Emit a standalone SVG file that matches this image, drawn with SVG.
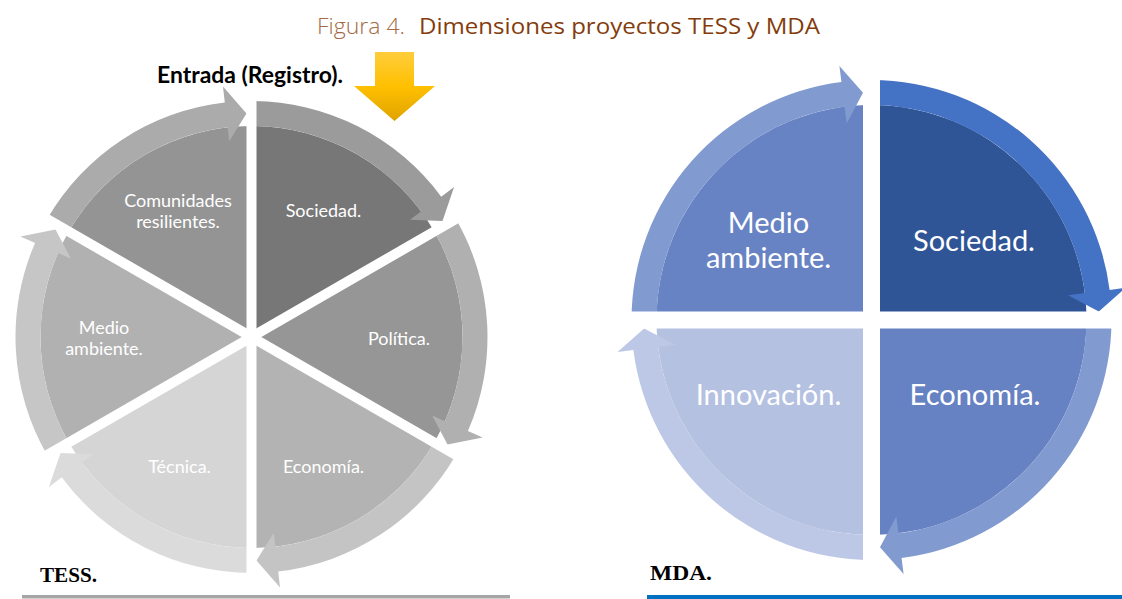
<svg xmlns="http://www.w3.org/2000/svg" xmlns:xlink="http://www.w3.org/1999/xlink" width="1122" height="599" viewBox="0 0 1122 599">
<style>
.lbl{font-family:Lato,"Open Sans","Liberation Sans",sans-serif;fill:#ffffff;text-anchor:middle}
.ts{font-size:18px}
.ms{font-size:29px}
.ser{font-family:"Liberation Serif","Times New Roman",serif;font-weight:bold;fill:#000000;font-size:21px}
.gap{stroke:#ffffff;stroke-width:10;fill:none}
.ttl{font-family:"Open Sans","Noto Sans","Liberation Sans",sans-serif;font-size:22px}
</style>
<defs>
<path id="tp" d="M251.5,337 L251.5,126 A211,211 0 0 1 434.23,231.5 Z"/>
<path id="tr" d="M251.5,101 A236,236 0 0 1 441.22,196.63 L454.08,187.11 L442.5,220.94 L409.87,219.82 L421.12,211.5 A211,211 0 0 0 251.5,126 Z"/>
<path id="mp" d="M871.5,320 L871.5,105 A215,215 0 0 1 1086.5,320 Z"/>
<path id="mr" d="M871.5,80 A240,240 0 0 1 1109.61,289.92 L1125.48,287.92 L1098.84,311.5 L1067.94,295.18 L1084.8,293.05 A215,215 0 0 0 871.5,105 Z"/>
<linearGradient id="gold" x1="0" y1="0" x2="0" y2="1">
<stop offset="0" stop-color="#FFCD3C"/>
<stop offset="0.5" stop-color="#FFC000"/>
<stop offset="1" stop-color="#DFA300"/>
</linearGradient>
</defs>
<rect width="1122" height="599" fill="#ffffff"/>
<g id="title">
<text class="ttl" x="317" y="34" fill="#A36A45" font-weight="300" textLength="88" lengthAdjust="spacingAndGlyphs">Figura 4.</text>
<text class="ttl" x="419" y="34" fill="#843C0C" font-weight="400" textLength="401" lengthAdjust="spacingAndGlyphs">Dimensiones proyectos TESS y MDA</text>
</g>

<!-- TESS -->
<g id="tess-sociedad">
<use xlink:href="#tp" href="#tp" fill="#777777"/>
<use xlink:href="#tr" href="#tr" fill="#9B9B9B"/>
</g>
<g id="tess-politica">
<g transform="rotate(60 251.5 337)"><use xlink:href="#tp" href="#tp" fill="#969696"/><use xlink:href="#tr" href="#tr" fill="#B0B0B0"/></g>
</g>
<g id="tess-economia">
<g transform="rotate(120 251.5 337)"><use xlink:href="#tp" href="#tp" fill="#B3B3B3"/><use xlink:href="#tr" href="#tr" fill="#C4C4C4"/></g>
</g>
<g id="tess-tecnica">
<g transform="rotate(180 251.5 337)"><use xlink:href="#tp" href="#tp" fill="#D5D5D5"/><use xlink:href="#tr" href="#tr" fill="#DBDBDB"/></g>
</g>
<g id="tess-medio">
<g transform="rotate(240 251.5 337)"><use xlink:href="#tp" href="#tp" fill="#B1B1B1"/><use xlink:href="#tr" href="#tr" fill="#C6C6C6"/></g>
</g>
<g id="tess-comunidades">
<g transform="rotate(300 251.5 337)"><use xlink:href="#tp" href="#tp" fill="#949494"/><use xlink:href="#tr" href="#tr" fill="#ABABAB"/></g>
</g>
<g id="tess-gaps">
<line class="gap" x1="251.5" y1="95" x2="251.5" y2="579"/>
<line class="gap" x1="461.08" y1="216" x2="41.92" y2="458"/>
<line class="gap" x1="41.92" y1="216" x2="461.08" y2="458"/>
</g>
<g id="tess-labels">
<text class="lbl ts" x="178" y="207">Comunidades</text>
<text class="lbl ts" x="178" y="228">resilientes.</text>
<text class="lbl ts" x="323.5" y="217">Sociedad.</text>
<text class="lbl ts" x="399" y="345">Política.</text>
<text class="lbl ts" x="104" y="334">Medio</text>
<text class="lbl ts" x="104" y="355">ambiente.</text>
<text class="lbl ts" x="179.5" y="473">Técnica.</text>
<text class="lbl ts" x="323.5" y="473">Economía.</text>
</g>
<g id="connectors">
<polygon points="375,52 414,52 414,86 435,86 394.5,121 354,86 375,86" fill="url(#gold)"/>
</g>
<text id="entrada" x="157" y="83" font-family="Lato,'Open Sans',sans-serif" font-weight="bold" font-size="22" fill="#000000" textLength="186" lengthAdjust="spacingAndGlyphs">Entrada (Registro).</text>
<text class="ser" x="40" y="582" textLength="57" lengthAdjust="spacingAndGlyphs">TESS.</text>
<rect x="22" y="595" width="488" height="3.5" fill="#A6A6A6"/>

<!-- MDA -->
<g id="mda-sociedad">
<use xlink:href="#mp" href="#mp" fill="#2F5597"/>
<use xlink:href="#mr" href="#mr" fill="#4472C4"/>
</g>
<g id="mda-economia">
<g transform="rotate(90 871.5 320)"><use xlink:href="#mp" href="#mp" fill="#6782C3"/><use xlink:href="#mr" href="#mr" fill="#819AD0"/></g>
</g>
<g id="mda-innovacion">
<g transform="rotate(180 871.5 320)"><use xlink:href="#mp" href="#mp" fill="#B4C1E1"/><use xlink:href="#mr" href="#mr" fill="#BCC8E5"/></g>
</g>
<g id="mda-medio">
<g transform="rotate(270 871.5 320)"><use xlink:href="#mp" href="#mp" fill="#6783C4"/><use xlink:href="#mr" href="#mr" fill="#819AD0"/></g>
</g>
<g id="mda-gaps">
<rect x="863" y="72" width="17" height="496" fill="#ffffff"/>
<rect x="623" y="311.5" width="497" height="17" fill="#ffffff"/>
</g>
<g id="mda-labels">
<text class="lbl ms" x="768.5" y="233">Medio</text>
<text class="lbl ms" x="768.5" y="268">ambiente.</text>
<text class="lbl ms" x="974" y="251">Sociedad.</text>
<text class="lbl ms" x="768.5" y="405">Innovación.</text>
<text class="lbl ms" x="975" y="405">Economía.</text>
</g>
<text class="ser" x="650" y="580" textLength="62" lengthAdjust="spacingAndGlyphs">MDA.</text>
<rect x="647" y="595" width="475" height="4" fill="#0070C0"/>
</svg>
